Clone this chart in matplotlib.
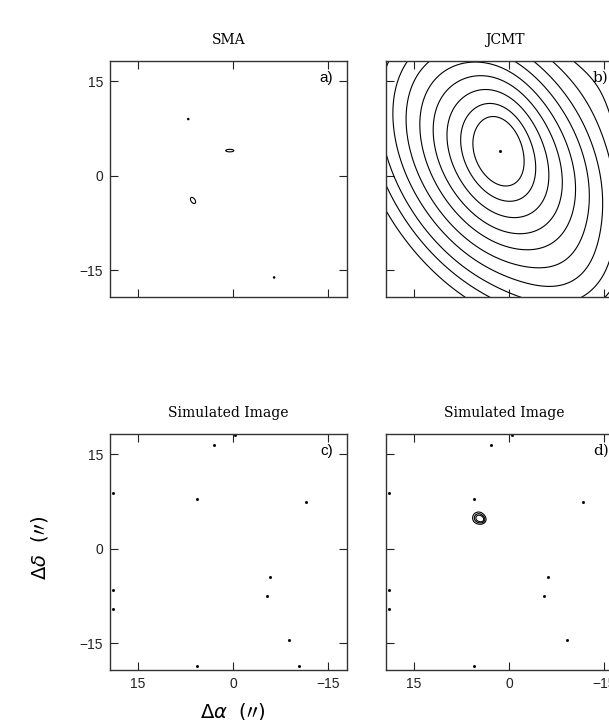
import numpy as np
import matplotlib.pyplot as plt

# axis limits in arcsec (RA offset runs east -> west, left -> right)
ra_lim = (19.4, -18.0)
dec_lim = (-19.2, 18.2)
ticks = [-15, 0, 15]

# a) SMA: the few tiny contour islands
sma_ra = [7.05, 0.5, 6.3, -6.5]
sma_dec = [9.0, 4.0, -3.9, -16.1]
sma_major = [0.12, 0.65, 0.55, 0.12]
sma_minor = [0.12, 0.2, 0.32, 0.12]
sma_pa = [0, 90, 35, 0]

# b) JCMT: core + envelope (ra0, dec0, pa, axis ratio, amp, exp. scale)
jc_ra = [1.5, 1.8]
jc_dec = [4.5, 3.0]
jc_pa = [15, 33]
jc_ratio = [1.55, 1.5]
jc_amp = [2.5, 1.0]
jc_scale = [2.5, 5.4]
# weak smooth bumps shaping the outer contours (ra0, dec0, sigma, amp)
bump_ra = [-22.0, -9.0]
bump_dec = [20.0, -15.0]
bump_sig = [8.0, 5.0]
bump_amp = [0.006, 0.006]
jc_levels = [0.0045, 0.0075, 0.012, 0.020, 0.033, 0.056, 0.095,
             0.169, 0.317, 0.60]
jc_peak = (1.4, 4.0)

# c) simulated image: isolated tiny contour dots
simc_ra = [3.05, -0.37, 5.7, -11.5, 19.0, -5.9, -5.4, 19.0, 19.0, -8.9, 5.7, -10.5]
simc_dec = [16.4, 18.0, 7.9, 7.5, 8.9, -4.5, -7.5, -6.6, -9.6, -14.5, -18.5, -18.5]

# d) simulated image with the compact source
simd_ra = [2.9, -0.5, 5.45, -11.7, 18.9, -6.1, -5.6, 18.9, 18.9, -9.1, 5.45]
simd_dec = [16.4, 18.0, 7.9, 7.5, 8.9, -4.5, -7.5, -6.6, -9.6, -14.5, -18.5]
blob_ra = [4.8, 4.2]
blob_dec = [4.9, 4.6]
blob_sig = [0.6, 0.4]
blob_amp = [1.0, 0.5]
blob_levels = [0.3, 0.55, 0.8]

# grid for contouring
g = np.linspace(-30, 30, 700)
X, Y = np.meshgrid(g, g)


def ell_radius(x0, y0, pa, ratio):
    t = np.radians(pa)
    dx, dy = X - x0, Y - y0
    u = dx * np.sin(t) + dy * np.cos(t)
    v = dx * np.cos(t) - dy * np.sin(t)
    return np.sqrt(u ** 2 + (v * ratio) ** 2)


W, H = 609, 720
fig = plt.figure(figsize=(W / 100, H / 100), dpi=100)
aw, ah = 237 / W, 236 / H
x1, x2 = 110 / W, 386 / W
y_top, y_bot = 1 - 297 / H, 1 - 670 / H

ax_a = fig.add_axes([x1, y_top, aw, ah])
ax_b = fig.add_axes([x2, y_top, aw, ah])
ax_c = fig.add_axes([x1, y_bot, aw, ah])
ax_d = fig.add_axes([x2, y_bot, aw, ah])

lw = 0.8
col = 'black'

# a) SMA
fa = np.zeros_like(X)
for r0, d0, a, b, pa in zip(sma_ra, sma_dec, sma_major, sma_minor, sma_pa):
    t = np.radians(pa)
    dx, dy = X - r0, Y - d0
    u = dx * np.sin(t) + dy * np.cos(t)
    v = dx * np.cos(t) - dy * np.sin(t)
    fa = np.maximum(fa, np.exp(-0.5 * ((u / a) ** 2 + (v / b) ** 2)))
ax_a.contour(X, Y, fa, levels=[np.exp(-0.5)], colors=col, linewidths=lw)

# b) JCMT
fb = np.zeros_like(X)
for r0, d0, pa, q, amp, h in zip(jc_ra, jc_dec, jc_pa, jc_ratio, jc_amp, jc_scale):
    fb += amp * np.exp(-ell_radius(r0, d0, pa, q) / h)
for r0, d0, s, amp in zip(bump_ra, bump_dec, bump_sig, bump_amp):
    fb += amp * np.exp(-0.5 * ((X - r0) ** 2 + (Y - d0) ** 2) / s ** 2)
ax_b.contour(X, Y, fb, levels=jc_levels, colors=col, linewidths=lw)
ax_b.plot(*jc_peak, marker='s', ms=1.0, color=col)

# c) simulated
ax_c.plot(simc_ra, simc_dec, ls='none', marker='s', ms=1.0, color=col)

# d) simulated + source
fd = np.zeros_like(X)
for r0, d0, s, amp in zip(blob_ra, blob_dec, blob_sig, blob_amp):
    fd += amp * np.exp(-0.5 * ((X - r0) ** 2 + (Y - d0) ** 2) / s ** 2)
ax_d.contour(X, Y, fd, levels=blob_levels, colors=col, linewidths=lw)
ax_d.plot(simd_ra, simd_dec, ls='none', marker='s', ms=1.0, color=col)

serif = 'DejaVu Serif'
sans = 'Liberation Sans'
for ax in (ax_a, ax_b, ax_c, ax_d):
    ax.set_xlim(ra_lim)
    ax.set_ylim(dec_lim)
    ax.set_xticks(ticks)
    ax.set_yticks(ticks)
    ax.tick_params(direction='in', top=True, right=True, length=6, width=0.8,
                   labelsize=10, pad=5, colors='#222222')
    for lab in ax.get_xticklabels() + ax.get_yticklabels():
        lab.set_family(sans)
    for s in ax.spines.values():
        s.set_linewidth(1.0)
        s.set_color('#333333')

ax_a.tick_params(labelbottom=False)
ax_b.tick_params(labelbottom=False, labelleft=False)
ax_d.tick_params(labelleft=False)

ax_a.set_title('SMA', family=serif, fontsize=10, pad=12)
ax_b.set_title('JCMT', family=serif, fontsize=10, pad=12)
ax_c.set_title('Simulated Image', family=serif, fontsize=10, pad=12)
ax_d.set_title('Simulated Image', family=serif, fontsize=10, pad=12)

ax_a.text(0.94, 0.93, 'a)', transform=ax_a.transAxes, ha='right', va='center',
          family=sans, fontsize=11)
ax_c.text(0.94, 0.93, 'c)', transform=ax_c.transAxes, ha='right', va='center',
          family=sans, fontsize=11)
ax_b.text(0.94, 0.93, 'b)', transform=ax_b.transAxes, ha='right', va='center',
          family=serif, fontsize=11)
ax_d.text(0.94, 0.93, 'd)', transform=ax_d.transAxes, ha='right', va='center',
          family=serif, fontsize=11)

fig.text(40 / W, 1 - 548 / H, r'$\Delta\delta\ \ (\prime\prime)$', rotation=90,
         ha='center', va='center', fontsize=14)
fig.text(233 / W, 1 - 701 / H, r'$\Delta\alpha\ \ (\prime\prime)$',
         ha='center', va='top', fontsize=14)

fig.savefig('out.png', dpi=100)
